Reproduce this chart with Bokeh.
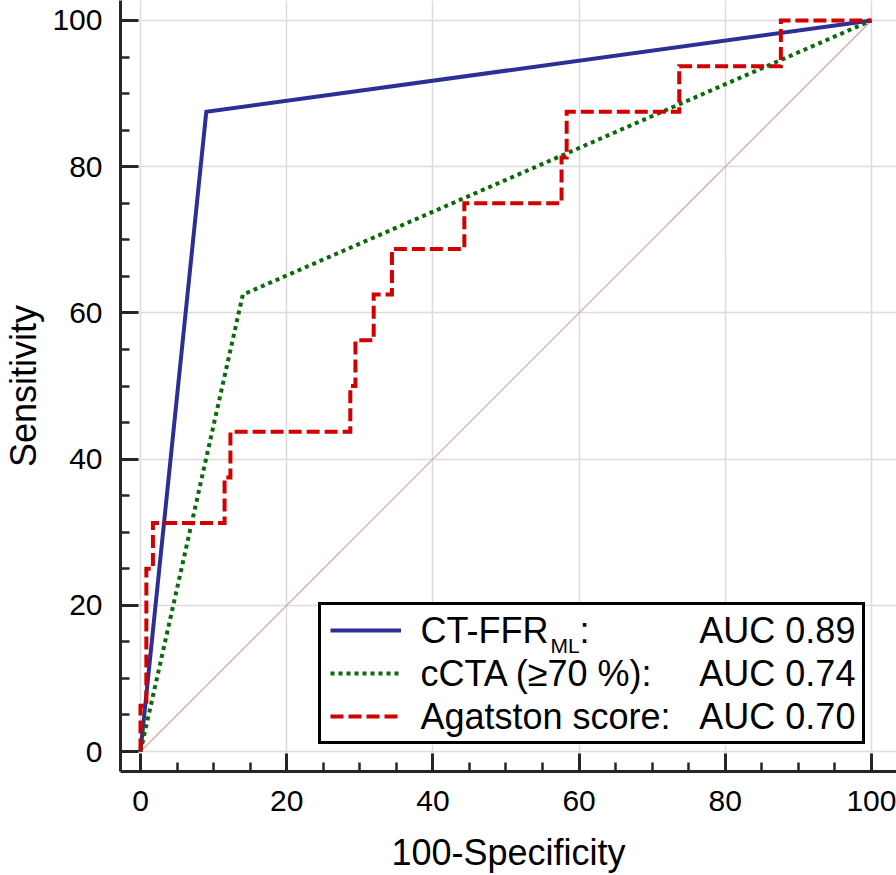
from bokeh.plotting import figure
from bokeh.models import Range1d, SingleIntervalTicker, Legend, LegendItem, Label, BoxAnnotation
from bokeh.embed import file_html
from bokeh.resources import INLINE

# ---------------- data ----------------
ctffr_fpr = [0.0, 9.0, 100.0]
ctffr_tpr = [0.0, 87.5, 100.0]

ccta_fpr = [0.0, 14.0, 100.0]
ccta_tpr = [0.0, 62.5, 100.0]

# Agatston operating points: x where each step occurs, y level of each step
agat_fpr = [0.0, 0.8, 1.7, 11.5, 12.3, 28.7, 29.4, 31.9, 34.4, 44.3, 57.6, 58.3, 73.7, 87.6, 100.0]
agat_tpr = [0.0, 6.25, 25.0, 31.25, 37.5, 43.75, 50.0, 56.25, 62.5, 68.75, 75.0, 81.25, 87.5, 93.75, 100.0]

ref_fpr = [0.0, 100.0]
ref_tpr = [0.0, 100.0]

legend_names = ["CT-FFR", "cCTA (\u226570 %):", "Agatston score:"]
legend_sub = "ML"
auc_labels = ["AUC 0.89", "AUC 0.74", "AUC 0.70"]

x_title = "100-Specificity"
y_title = "Sensitivity"

# ---------------- styling ----------------
FONT = "Liberation Sans"
BLUE = "#2e2f96"
GREEN = "#0a6a0a"
RED = "#d20000"
AXIS = "#262626"

p = figure(width=896, height=875, output_backend="svg", toolbar_location=None,
           x_range=Range1d(-2.736, 103.42), y_range=Range1d(-2.73, 102.73),
           min_border_left=120, min_border_right=0, min_border_top=0, min_border_bottom=102)
p.outline_line_color = None
p.background_fill_color = "white"
p.border_fill_color = "white"

for ax in (p.xaxis[0], p.yaxis[0]):
    ax.ticker = SingleIntervalTicker(interval=20, num_minor_ticks=4)
    ax.axis_line_color = AXIS
    ax.axis_line_width = 3
    ax.major_tick_line_color = AXIS
    ax.major_tick_line_width = 3
    ax.minor_tick_line_color = AXIS
    ax.minor_tick_line_width = 2.5
    ax.major_tick_in = 18
    ax.major_tick_out = 0
    ax.minor_tick_in = 9
    ax.minor_tick_out = 0
    ax.major_label_text_font = FONT
    ax.major_label_text_font_size = "30px"
    ax.major_label_text_color = "black"
    ax.axis_label_text_font = FONT
    ax.axis_label_text_font_size = "36px"
    ax.axis_label_text_font_style = "normal"
    ax.axis_label_text_color = "black"

p.xaxis.axis_label = x_title
p.yaxis.axis_label = y_title
p.xaxis.major_label_standoff = 19
p.xaxis.axis_label_standoff = 18
p.yaxis.major_label_standoff = 18
p.yaxis.axis_label_standoff = 5

p.grid.grid_line_color = "#dcdcdc"
p.grid.grid_line_width = 1.5
p.xgrid.ticker = SingleIntervalTicker(interval=20)
p.ygrid.ticker = SingleIntervalTicker(interval=20)

# white backing for the legend (hides grid lines inside the legend box)
LEG_LEFT, LEG_RIGHT, LEG_BOTTOM, LEG_TOP = 24.35, 98.77, 0.95, 20.05
p.add_layout(BoxAnnotation(left=LEG_LEFT, right=LEG_RIGHT, bottom=LEG_BOTTOM, top=LEG_TOP,
                           fill_color="white", fill_alpha=1.0, line_color=None, level="underlay"))

# diagonal reference
p.line(ref_fpr, ref_tpr, line_color="#d9a3a3", line_width=1.2)

# build step path for Agatston (vertical then horizontal between operating points)
ax_path, ay_path = [agat_fpr[0]], [agat_tpr[0]]
for i in range(1, len(agat_fpr)):
    ax_path.append(agat_fpr[i - 1]); ay_path.append(agat_tpr[i])
    ax_path.append(agat_fpr[i]); ay_path.append(agat_tpr[i])

r_blue = p.line(ctffr_fpr, ctffr_tpr, line_color=BLUE, line_width=4, line_join="miter")
r_green = p.line(ccta_fpr, ccta_tpr, line_color=GREEN, line_width=4, line_dash="4 4", line_join="miter")
r_red = p.line(ax_path, ay_path, line_color=RED, line_width=4, line_dash="13 5", line_join="miter")

legend = Legend(items=[LegendItem(label=" ", renderers=[r]) for r in (r_blue, r_green, r_red)],
                location=(198, 27), orientation="vertical", margin=0, padding=9, spacing=11,
                glyph_width=71, glyph_height=32, label_standoff=20, label_width=432, label_height=32,
                label_text_font_size="10px",
                border_line_color="black", border_line_width=3, border_line_alpha=1.0,
                background_fill_alpha=0.0)
p.add_layout(legend)

TEXT_X = 38.3
AUC_X = 97.8
ROW_Y = [16.5, 10.64, 4.77]
for name, auc, yb in zip(legend_names, auc_labels, ROW_Y):
    p.add_layout(Label(x=TEXT_X, y=yb, text=name, text_font=FONT, text_font_size="36px",
                       text_color="black", text_baseline="alphabetic", text_align="left"))
    p.add_layout(Label(x=AUC_X, y=yb, text=auc, text_font=FONT, text_font_size="36px",
                       text_color="black", text_baseline="alphabetic", text_align="right"))
# subscript and colon for first entry
p.add_layout(Label(x=TEXT_X, y=ROW_Y[0], x_offset=130, y_offset=-15, text=legend_sub, text_font=FONT,
                   text_font_size="21px", text_color="black", text_baseline="alphabetic"))
p.add_layout(Label(x=TEXT_X, y=ROW_Y[0], x_offset=159, text=":", text_font=FONT,
                   text_font_size="36px", text_color="black", text_baseline="alphabetic"))

open("out.html", "w").write(file_html(p, INLINE))
